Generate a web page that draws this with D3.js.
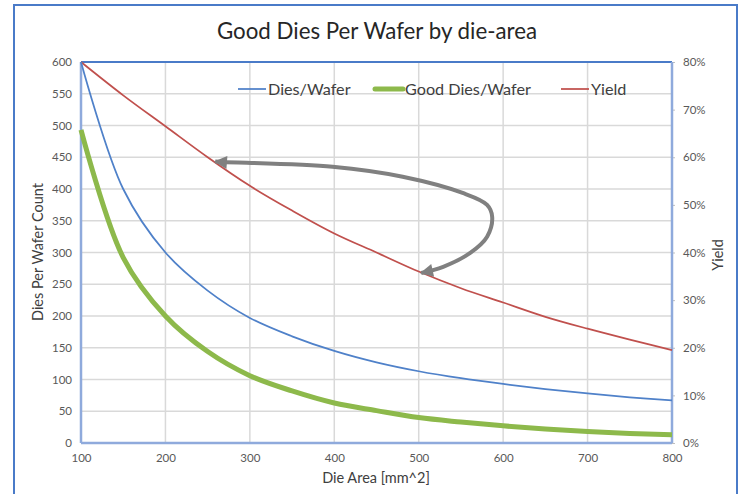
<!DOCTYPE html>
<html>
<head>
<meta charset="utf-8">
<script src="https://cdn.jsdelivr.net/npm/d3@7"></script>
<style>
  body { margin: 0; background: #fff; }
  svg { display: block; font-family: Lato, "Open Sans", sans-serif; }
</style>
</head>
<body>
<div id="chart"></div>
<script>
// die area [mm^2]
var dieArea = [100, 150, 200, 250, 300, 350, 400, 450, 500, 550, 600, 650, 700, 750, 800];
// dies per wafer
var diesPerWafer = [600, 400, 300, 240, 197, 168, 145, 127, 113, 102, 93, 85, 78, 72, 67];
// good dies per wafer
var goodDies = [493, 292, 200, 144, 106, 82, 63, 51, 40, 33, 27, 22, 18, 15, 13];
// yield (fraction)
var yieldVals = [0.80, 0.73, 0.665, 0.60, 0.54, 0.488, 0.44, 0.40, 0.36, 0.325, 0.295, 0.265, 0.24, 0.217, 0.195];

var xTicks = [100, 200, 300, 400, 500, 600, 700, 800];
var yTicks = [0, 50, 100, 150, 200, 250, 300, 350, 400, 450, 500, 550, 600];
var yieldTicks = [0, 0.1, 0.2, 0.3, 0.4, 0.5, 0.6, 0.7, 0.8];

// curved annotation arrow, in (die area, yield) units
var arrowArea = [259, 268, 398, 481, 552, 581, 587, 581, 561, 529, 503];
var arrowYield = [0.591, 0.59, 0.58, 0.559, 0.525, 0.50, 0.475, 0.433, 0.399, 0.37, 0.357];

var width = 741, height = 494;
var margin = { left: 81, right: 69, top: 62, bottom: 51 };
var innerW = width - margin.left - margin.right;
var innerH = height - margin.top - margin.bottom;

var svg = d3.select("#chart").append("svg")
  .attr("width", width)
  .attr("height", height);

// outer chart frame
svg.append("rect")
  .attr("x", 14).attr("y", 5)
  .attr("width", 723).attr("height", 500)
  .attr("fill", "#fff")
  .attr("stroke", "#4A7BC8")
  .attr("stroke-width", 2);

svg.append("text")
  .attr("x", 377).attr("y", 39)
  .attr("text-anchor", "middle")
  .attr("font-size", 22.3)
  .attr("fill", "#262626")
  .text("Good Dies Per Wafer by die-area");

var x = d3.scaleLinear().domain([100, 800]).range([0, innerW]);
var y = d3.scaleLinear().domain([0, 600]).range([innerH, 0]);
var y2 = d3.scaleLinear().domain([0, 0.8]).range([innerH, 0]);

var g = svg.append("g")
  .attr("transform", "translate(" + margin.left + "," + margin.top + ")");

// gridlines
g.append("g").selectAll("line").data(yTicks).enter().append("line")
  .attr("x1", 0).attr("x2", innerW)
  .attr("y1", d => y(d)).attr("y2", d => y(d))
  .attr("stroke", "#D9D9D9").attr("stroke-width", 1.5);

g.append("g").selectAll("line").data(xTicks).enter().append("line")
  .attr("x1", d => x(d)).attr("x2", d => x(d))
  .attr("y1", 0).attr("y2", innerH)
  .attr("stroke", "#D9D9D9").attr("stroke-width", 1.5);

// left axis
var yAxis = g.append("g")
  .call(d3.axisLeft(y).tickValues(yTicks).tickSize(0).tickPadding(9));
yAxis.select(".domain").remove();
yAxis.selectAll("text").attr("font-size", 11.5).attr("fill", "#595959").attr("font-family", "Lato, sans-serif");

// bottom axis
var xAxis = g.append("g")
  .attr("transform", "translate(0," + innerH + ")")
  .call(d3.axisBottom(x).tickValues(xTicks).tickSize(0).tickPadding(11));
xAxis.select(".domain").remove();
xAxis.selectAll("text").attr("font-size", 11.5).attr("fill", "#595959").attr("font-family", "Lato, sans-serif");

// right axis
var y2Axis = g.append("g")
  .attr("transform", "translate(" + innerW + ",0)")
  .call(d3.axisRight(y2).tickValues(yieldTicks).tickSize(3).tickPadding(8).tickFormat(d3.format(".0%")));
y2Axis.select(".domain").remove();
y2Axis.selectAll("line").attr("stroke", "#BFBFBF");
y2Axis.selectAll("text").attr("font-size", 11.5).attr("fill", "#595959").attr("font-family", "Lato, sans-serif");

// plot area border
g.append("line").attr("x1", 0).attr("x2", innerW).attr("y1", 0).attr("y2", 0)
  .attr("stroke", "#4A7BC8").attr("stroke-width", 2);
g.append("line").attr("x1", 0).attr("x2", 0).attr("y1", 0).attr("y2", innerH)
  .attr("stroke", "#8FAADC").attr("stroke-width", 2.5);
g.append("line").attr("x1", innerW).attr("x2", innerW).attr("y1", 0).attr("y2", innerH)
  .attr("stroke", "#8FAADC").attr("stroke-width", 2.5);
g.append("line").attr("x1", 0).attr("x2", innerW).attr("y1", innerH).attr("y2", innerH)
  .attr("stroke", "#8FAADC").attr("stroke-width", 2.5);

// series
var idx = d3.range(dieArea.length);
var smooth = d3.curveCatmullRom.alpha(0.5);
var lineLeft = vals => d3.line()
  .x(i => x(dieArea[i]))
  .y(i => y(vals[i]))
  .curve(smooth);

g.append("path").datum(idx)
  .attr("d", d3.line().x(i => x(dieArea[i])).y(i => y2(yieldVals[i])).curve(smooth))
  .attr("fill", "none").attr("stroke", "#C0504D").attr("stroke-width", 1.75);

g.append("path").datum(idx)
  .attr("d", lineLeft(diesPerWafer))
  .attr("fill", "none").attr("stroke", "#4F81C9").attr("stroke-width", 1.75);

g.append("path").datum(idx)
  .attr("d", lineLeft(goodDies))
  .attr("fill", "none").attr("stroke", "#8DB94B").attr("stroke-width", 5);

// annotation arrow
var defs = svg.append("defs");
defs.append("marker")
  .attr("id", "head")
  .attr("viewBox", "0 0 10 10")
  .attr("refX", 9).attr("refY", 5)
  .attr("markerUnits", "userSpaceOnUse")
  .attr("markerWidth", 15).attr("markerHeight", 13)
  .attr("orient", "auto-start-reverse")
  .append("path")
  .attr("d", "M0,0 L10,5 L0,10 Z")
  .attr("fill", "#808080");

g.append("path").datum(d3.range(arrowArea.length))
  .attr("d", d3.line().x(i => x(arrowArea[i])).y(i => y2(arrowYield[i])).curve(d3.curveCatmullRom))
  .attr("fill", "none")
  .attr("stroke", "#808080")
  .attr("stroke-width", 4)
  .attr("marker-start", "url(#head)")
  .attr("marker-end", "url(#head)");

// axis titles
svg.append("text")
  .attr("transform", "translate(43,252) rotate(-90)")
  .attr("text-anchor", "middle")
  .attr("font-size", 14.5).attr("fill", "#404040")
  .text("Dies Per Wafer Count");

svg.append("text")
  .attr("transform", "translate(723,255) rotate(-90)")
  .attr("text-anchor", "middle")
  .attr("font-size", 14.5).attr("fill", "#404040")
  .text("Yield");

svg.append("text")
  .attr("x", 376).attr("y", 483)
  .attr("text-anchor", "middle")
  .attr("font-size", 14.5).attr("fill", "#404040")
  .text("Die Area [mm^2]");

// legend
var legendItems = ["Dies/Wafer", "Good Dies/Wafer", "Yield"];
var legendColors = ["#4F81C9", "#8DB94B", "#C0504D"];
var legendWidths = [1.75, 5, 1.75];
var legendX = [238, 375, 561];

var legend = svg.append("g");
legendItems.forEach((name, i) => {
  legend.append("line")
    .attr("x1", legendX[i]).attr("x2", legendX[i] + 28)
    .attr("y1", 89).attr("y2", 89)
    .attr("stroke", legendColors[i]).attr("stroke-width", legendWidths[i])
    .attr("stroke-linecap", i === 1 ? "round" : "butt");
  legend.append("text")
    .attr("x", legendX[i] + 30).attr("y", 95)
    .attr("font-size", 16.2).attr("fill", "#404040")
    .text(name);
});
</script>
</body>
</html>
